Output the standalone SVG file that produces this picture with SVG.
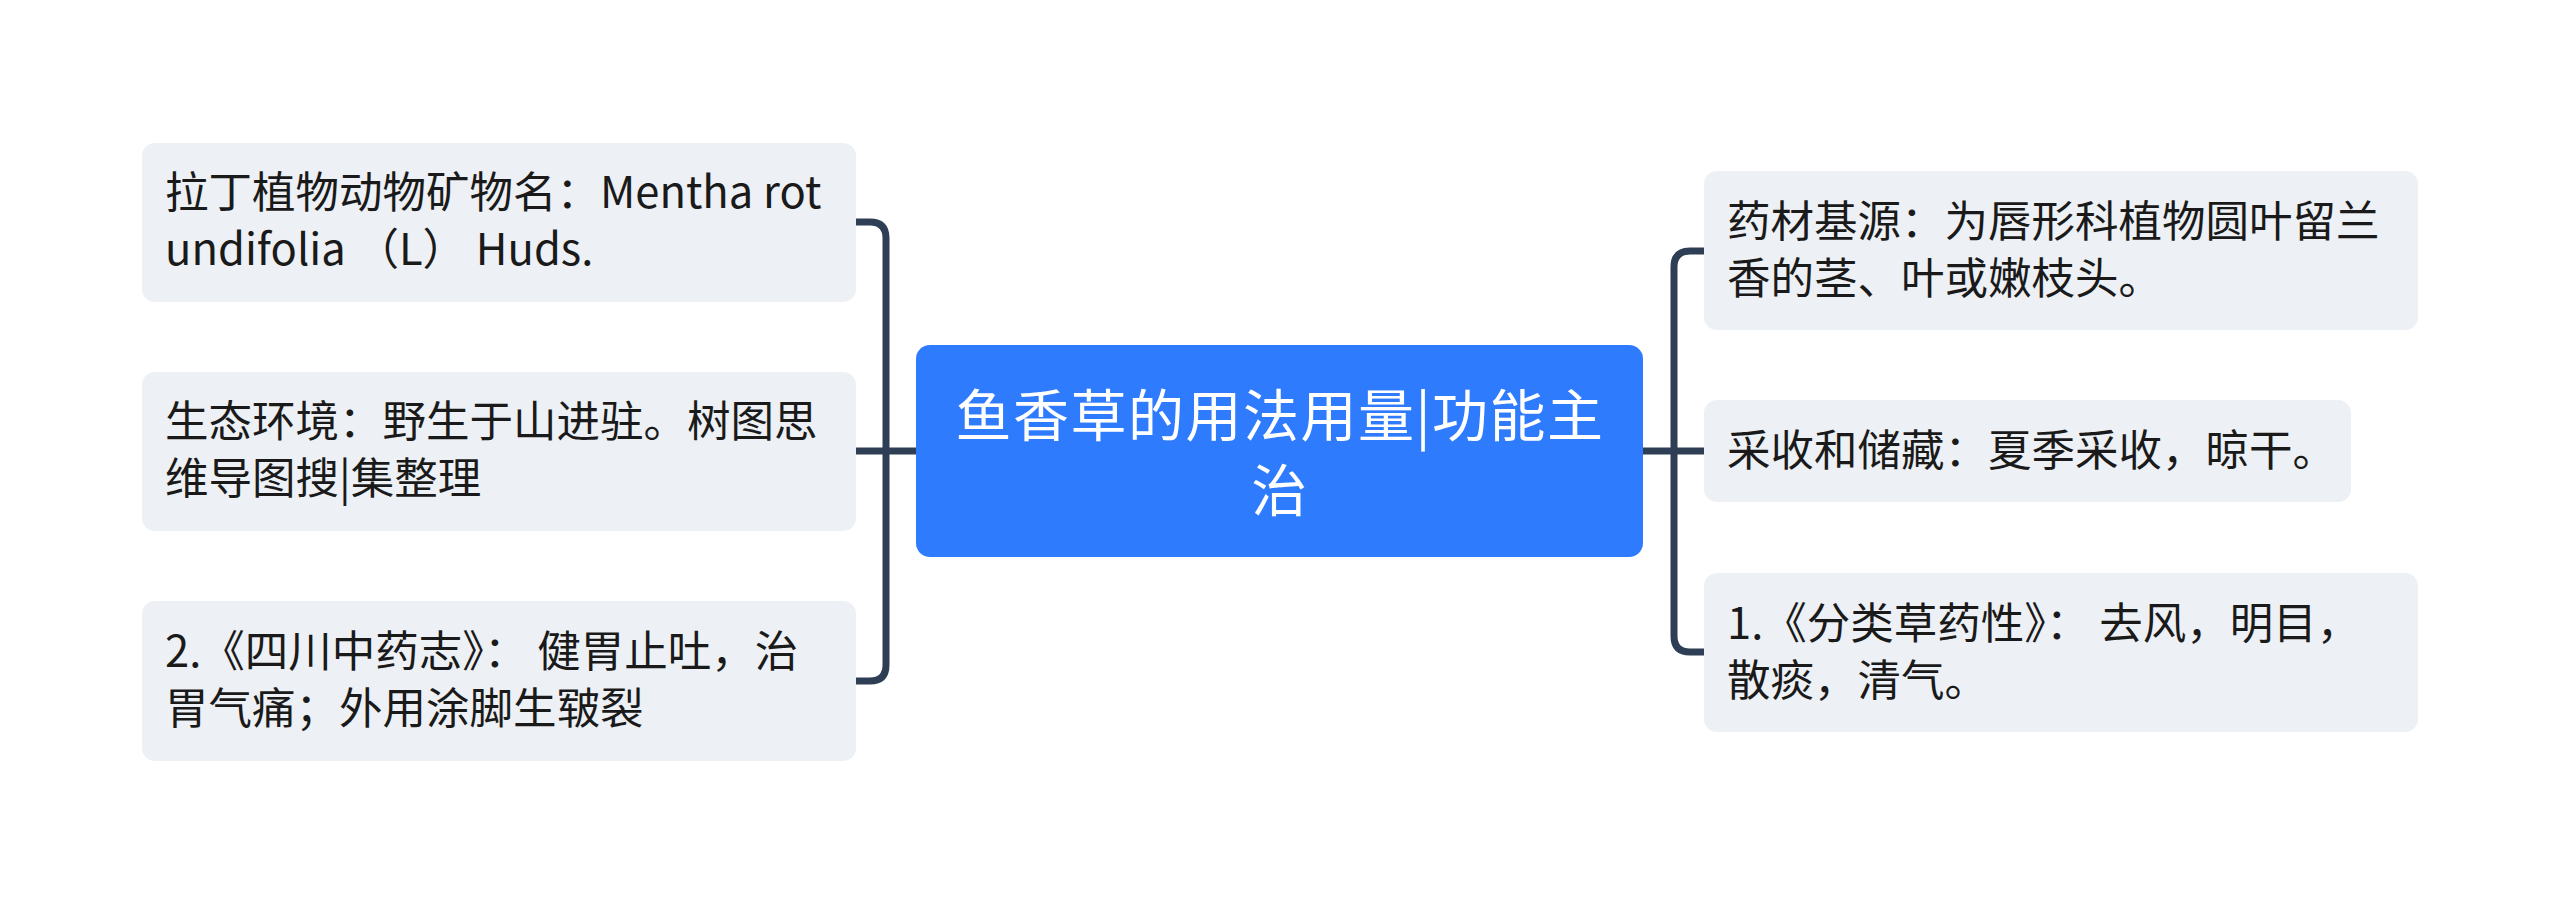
<svg xmlns="http://www.w3.org/2000/svg" width="2560" height="903" viewBox="0 0 2560 903">
<style>
.leaf{fill:#EDF0F4;}
.lt{font-family:"Noto Sans CJK SC","Noto Sans",sans-serif;font-size:43.5px;fill:#1a1a1a;}
.ct{font-family:"Noto Sans CJK SC","Noto Sans",sans-serif;font-size:56px;letter-spacing:1.5px;fill:#ffffff;text-anchor:middle;}
.conn{fill:none;stroke:#2E3E55;stroke-width:7;stroke-linecap:butt;}
</style>
<rect width="2560" height="903" fill="#ffffff"/>
<g id="connectors">
<path class="conn" d="M916 451 H856"/>
<path class="conn" d="M856 222 H870 Q886 222 886 238 V665 Q886 681 870 681 H856"/>
<path class="conn" d="M1643 451 H1704"/>
<path class="conn" d="M1704 251 H1690 Q1674 251 1674 267 V636 Q1674 652 1690 652 H1704"/>
</g>
<g id="center">
<rect x="916" y="345" width="727" height="212" rx="14" fill="#2F7BFE"/>
<text class="ct"><tspan x="1280" y="436">鱼香草的用法用量|功能主</tspan><tspan x="1280" y="511">治</tspan></text>
</g>
<g id="left1">
<rect class="leaf" x="142" y="143" width="714" height="159" rx="13"/>
<text class="lt"><tspan x="165" y="208">拉丁植物动物矿物名：Mentha rot</tspan><tspan x="165" y="265">undifolia （L） Huds.</tspan></text>
</g>
<g id="left2">
<rect class="leaf" x="142" y="372" width="714" height="159" rx="13"/>
<text class="lt"><tspan x="165" y="437">生态环境：野生于山进驻。树图思</tspan><tspan x="165" y="494">维导图搜|集整理</tspan></text>
</g>
<g id="left3">
<rect class="leaf" x="142" y="601" width="714" height="160" rx="13"/>
<text class="lt"><tspan x="165" y="667">2.《四川中药志》： 健胃止吐，治</tspan><tspan x="165" y="724">胃气痛；外用涂脚生皲裂</tspan></text>
</g>
<g id="right1">
<rect class="leaf" x="1704" y="171" width="714" height="159" rx="13"/>
<text class="lt"><tspan x="1727" y="237">药材基源：为唇形科植物圆叶留兰</tspan><tspan x="1727" y="294">香的茎、叶或嫩枝头。</tspan></text>
</g>
<g id="right2">
<rect class="leaf" x="1704" y="400" width="647" height="102" rx="13"/>
<text class="lt" x="1727" y="466">采收和储藏：夏季采收，晾干。</text>
</g>
<g id="right3">
<rect class="leaf" x="1704" y="573" width="714" height="159" rx="13"/>
<text class="lt"><tspan x="1727" y="639">1.《分类草药性》： 去风，明目，</tspan><tspan x="1727" y="696">散痰，清气。</tspan></text>
</g>
</svg>
